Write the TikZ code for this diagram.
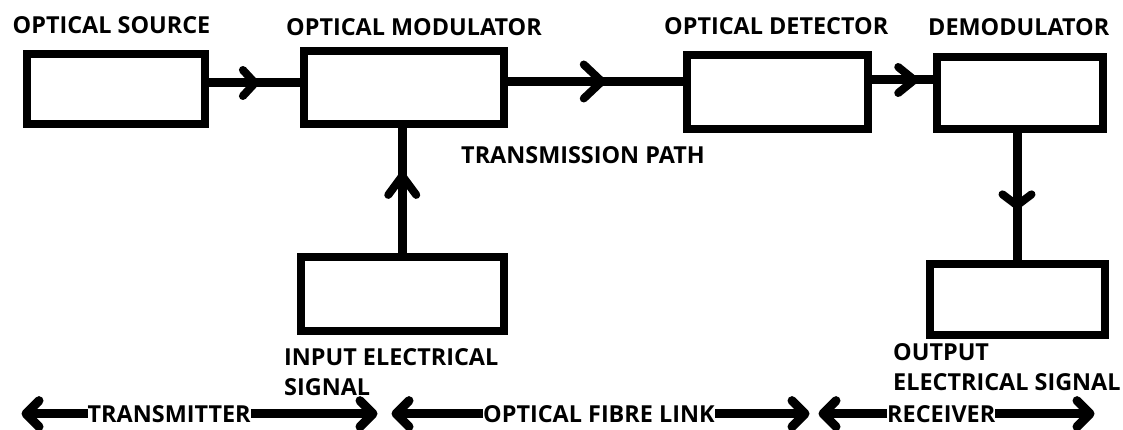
\documentclass[tikz,border=0pt]{standalone}
\usepackage{fontspec}
\setmainfont{Open Sans}
\usetikzlibrary{decorations.markings,calc}
\tikzset{
  blk/.style={draw, line width=8pt, inner sep=0pt},
  conn/.style={line width=9pt},
  lbl/.style={font=\fontsize{23.4}{28}\selectfont\bfseries, inner sep=0pt, anchor=base west},
  midchev/.style n args={3}{postaction={decorate}, decoration={markings,
      mark=at position #1 with {\draw[line width=8pt, line cap=round, line join=round]
        (-#2pt,-#3pt) -- (0pt,0pt) -- (-#2pt,#3pt);}}},
  bigarr/.style={line width=9pt, postaction={decorate}, decoration={markings,
      mark=at position 1 with {\draw[line width=9pt, line cap=round, line join=round]
        (-13pt,-13pt) -- (0pt,0pt) -- (-13pt,13pt);}}},
}
\begin{document}
\begin{tikzpicture}[x=1pt,y=-1pt]
\useasboundingbox (0,0) rectangle (1123,430);
% boxes
\node[blk, minimum width=177.8pt, minimum height=70.5pt] (src) at (115.6,89.25) {};
\node[blk, minimum width=200pt, minimum height=73pt] (mod) at (403.5,88) {};
\node[blk, minimum width=181pt, minimum height=73.5pt] (det) at (777.5,92.25) {};
\node[blk, minimum width=166.5pt, minimum height=72pt] (dem) at (1019.75,93) {};
\node[blk, minimum width=202.5pt, minimum height=74pt] (inp) at (402.25,294) {};
\node[blk, minimum width=175pt, minimum height=71pt] (out) at (1017,299) {};
% labels
\node[lbl] (lsrc) at (12.5,33.5) {OPTICAL SOURCE};
\node[lbl] (lmod) at (286,36) {OPTICAL MODULATOR};
\node[lbl] (ldet) at (664,35) {OPTICAL DETECTOR};
\node[lbl] (ldem) at (928,36) {DEMODULATOR};
\node[lbl] (lpath) at (461,164) {TRANSMISSION PATH};
\node[lbl] (linp1) at (284,365) {INPUT ELECTRICAL};
\node[lbl] (linp2) at (284,395) {SIGNAL};
\node[lbl] (lout1) at (893,360) {OUTPUT};
\node[lbl] (lout2) at (893,390) {ELECTRICAL SIGNAL};
\node[lbl] (ltx) at (87.5,422) {TRANSMITTER};
\node[lbl] (lfib) at (483,422) {OPTICAL FIBRE LINK};
\node[lbl] (lrx) at (887,422) {RECEIVER};
% connectors
\coordinate (ya) at (0,83);
\coordinate (yb) at (0,81.5);
\coordinate (yc) at (0,80);
\draw[conn, midchev={0.51}{12}{13}] (src.east |- ya) -- (mod.west |- ya);
\draw[conn, midchev={0.537}{18}{17}] (mod.east |- yb) -- (det.west |- yb);
\draw[conn, midchev={0.635}{16}{13}] (det.east |- yc) -- ($(dem.west |- yc)+(6,0)$);
\draw[conn, midchev={0.619}{19}{14}] (inp.north) -- (mod.south -| inp.north);
\draw[conn, midchev={0.572}{11}{14.5}] (dem.south -| out.north) -- (out.north);
% bottom range arrows
\coordinate (t1) at (26,0);
\coordinate (t2) at (373,0);
\coordinate (t3) at (396,0);
\coordinate (t4) at (805,0);
\coordinate (t5) at (823,0);
\coordinate (t6) at (1090,0);
\draw[bigarr] (ltx.west) -- (ltx.west -| t1);
\draw[bigarr] (ltx.east) -- (ltx.east -| t2);
\draw[bigarr] (lfib.west) -- (lfib.west -| t3);
\draw[bigarr] (lfib.east) -- (lfib.east -| t4);
\draw[bigarr] (lrx.west) -- (lrx.west -| t5);
\draw[bigarr] (lrx.east) -- (lrx.east -| t6);
\end{tikzpicture}
\end{document}
